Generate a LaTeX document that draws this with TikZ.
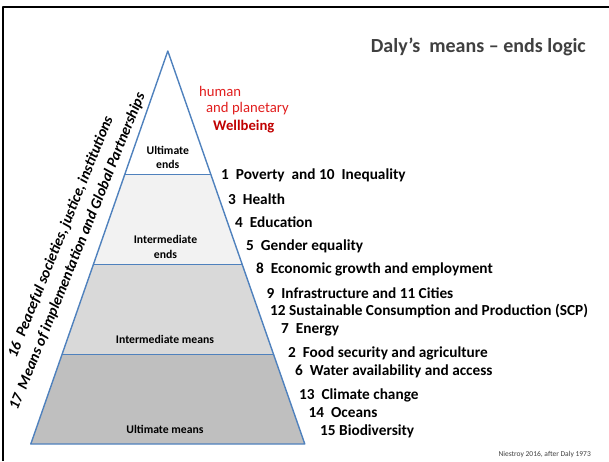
\documentclass[tikz,border=0pt]{standalone}
\usepackage{fontspec}
\setmainfont{Carlito}
\usetikzlibrary{calc}
\definecolor{pyrblue}{RGB}{79,129,189}
\definecolor{lvltwo}{RGB}{242,242,242}
\definecolor{lvlthree}{RGB}{217,217,217}
\definecolor{lvlfour}{RGB}{191,191,191}
\definecolor{titlegray}{RGB}{64,64,64}
\definecolor{wellred}{RGB}{192,0,0}
\definecolor{humanred}{RGB}{225,30,30}
\begin{document}
\begin{tikzpicture}[x=1pt, y=-1pt, line join=round, line cap=round,
  sdg/.style={anchor=west, inner sep=0pt, font=\bfseries\fontsize{15.3}{17}\selectfont},
  level/.style={align=center, inner sep=0pt, font=\bfseries\fontsize{11.7}{14.5}\selectfont},
  redtext/.style={anchor=west, inner sep=0pt, text=humanred, font=\fontsize{14.7}{16}\selectfont},
  partner/.style={rotate=68, anchor=base, inner sep=0pt, font=\bfseries\itshape\fontsize{15.2}{18}\selectfont}]
\useasboundingbox (0,0) rectangle (609,461);
% frame
\draw[line width=2.5pt, line cap=butt] (3,461) -- (3,7) -- (609,7);
% pyramid
\coordinate (top) at (167.8,51);
\coordinate (bl) at (30.8,444);
\coordinate (br) at (304.8,444);
\coordinate (l1) at ($(top)!0.313!(bl)$);
\coordinate (r1) at ($(top)!0.313!(br)$);
\coordinate (l2) at ($(top)!0.542!(bl)$);
\coordinate (r2) at ($(top)!0.542!(br)$);
\coordinate (l3) at ($(top)!0.771!(bl)$);
\coordinate (r3) at ($(top)!0.771!(br)$);
\fill[lvltwo] (l1) -- (r1) -- (r2) -- (l2) -- cycle;
\fill[lvlthree] (l2) -- (r2) -- (r3) -- (l3) -- cycle;
\fill[lvlfour] (l3) -- (r3) -- (br) -- (bl) -- cycle;
\draw[pyrblue, line width=0.8pt] (l1) -- (r1) (l2) -- (r2) (l3) -- (r3);
\draw[pyrblue, line width=1.4pt] (bl) -- (top) -- (br) -- cycle;
% levels
\node[level] (uends) at (167.8,157.5) {Ultimate\\ends};
\node[level] (iends) at (165.5,247) {Intermediate\\ends};
\node[level] (imeans) at (165,339) {Intermediate means};
\node[level] (umeans) at (165,429) {Ultimate means};
% title and source
\node[anchor=east, inner sep=0pt, text=titlegray, font=\bfseries\fontsize{20}{22}\selectfont] (title) at (586,47) {Daly’s~~means – ends logic};
\node[anchor=east, inner sep=0pt, text=titlegray, font=\fontsize{7.5}{8}\selectfont] (source) at (591,454) {Niestroy 2016, after Daly 1973};
% wellbeing
\node[redtext] (human) at (199,91) {human};
\node[redtext] (planet) at (206,109) {and planetary};
\node[redtext, text=wellred, font=\bfseries\fontsize{14.7}{16}\selectfont] (well) at (213,127) {Wellbeing};
% goals
\node[sdg] (g1) at (221,175.5) {1~~Poverty~~and 10~~Inequality};
\node[sdg] (g3) at (228,199) {3~~Health};
\node[sdg] (g4) at (235,222) {4~~Education};
\node[sdg] (g5) at (246,246.5) {5~~Gender equality};
\node[sdg] (g8) at (256,269) {8~~Economic growth and employment};
\node[sdg] (g9) at (266.5,293) {9~~Infrastructure and 11 Cities};
\node[sdg] (g12) at (270,311.5) {12 Sustainable Consumption and Production (SCP)};
\node[sdg] (g7) at (281,330) {7~~Energy};
\node[sdg] (g2) at (288,353) {2~~Food security and agriculture};
\node[sdg] (g6) at (295,371) {6~~Water availability and access};
\node[sdg] (g13) at (299,395) {13~~Climate change};
\node[sdg] (g14) at (308.5,413) {14~~Oceans};
\node[sdg] (g15) at (320,431.5) {15 Biodiversity};
% partnerships along the left side
\node[partner] (peace) at (64.7,238.3) {16~~Peaceful societies, justice, institutions};
\node[partner] (means) at (81.4,253) {17~~Means of implementation and Global Partnerships};
\end{tikzpicture}
\end{document}
